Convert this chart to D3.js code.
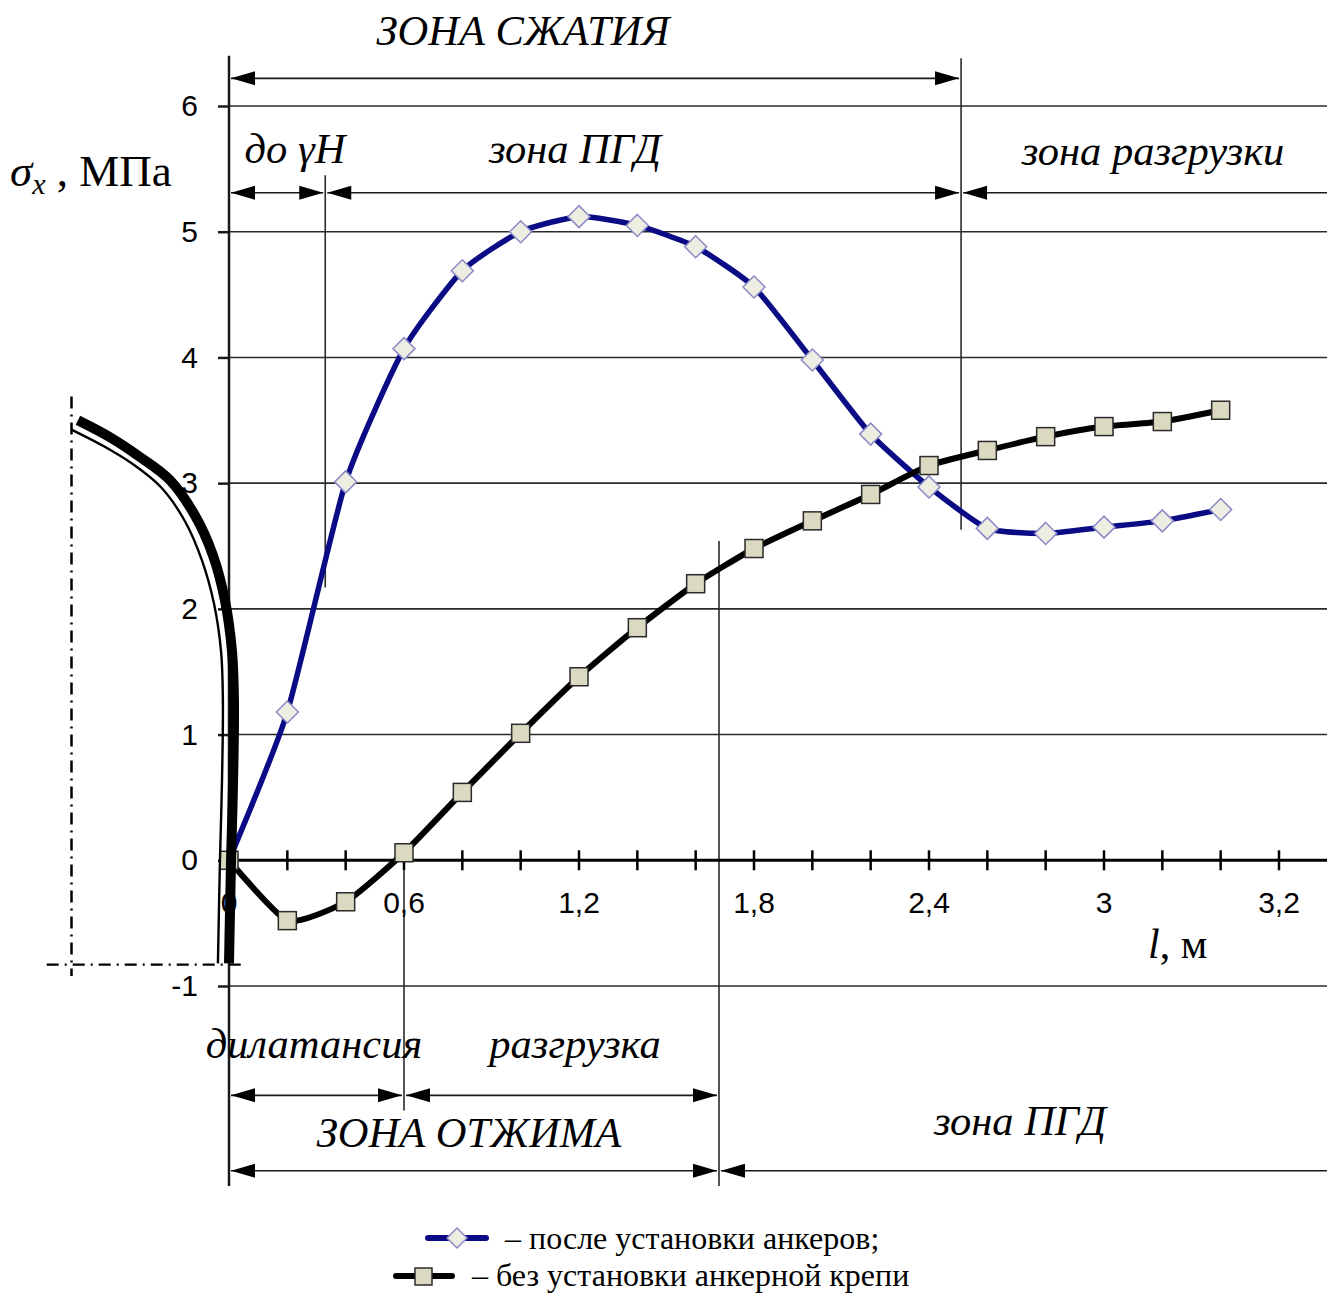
<!DOCTYPE html>
<html lang="ru">
<head>
<meta charset="UTF-8">
<title>Напряжения σx</title>
<script src="https://cdn.jsdelivr.net/npm/d3@7"></script>
<style>
  body { margin: 0; background: #fff; }
  svg { display: block; }
</style>
</head>
<body>
<div id="container"></div>
<script>
// distance from contour, m
const lVals = [0, 0.2, 0.4, 0.6, 0.8, 1.0, 1.2, 1.4, 1.6, 1.8, 2.0, 2.2, 2.4, 2.6, 2.8, 3.0, 3.2, 3.4]
// σx, MPa - after anchors
const withAnchors = [0, 1.18, 3.01, 4.07, 4.69, 5.0, 5.12, 5.05, 4.88, 4.56, 3.98, 3.39, 2.97, 2.64, 2.60, 2.65, 2.70, 2.79]
// σx, MPa - no anchor support
const noAnchors = [0, -0.48, -0.33, 0.06, 0.54, 1.01, 1.46, 1.85, 2.20, 2.48, 2.70, 2.91, 3.14, 3.26, 3.37, 3.45, 3.49, 3.58]

// axis ticks (labels copied as printed)
const xLabelVals = [0, 0.6, 1.2, 1.8, 2.4, 3.0, 3.6]
const xLabels = ["0", "0,6", "1,2", "1,8", "2,4", "3", "3,2"]
const yTickVals = [-1, 0, 1, 2, 3, 4, 5, 6]

// zone boundaries, m
const gammaHEnd = 0.33
const squeezeEnd = 2.51
const dilatEnd = 0.6
const pushEnd = 1.68

// excavation contour sketch (l, σ units)
const contourThick = [[-0.518, 3.5], [-0.408, 3.365], [-0.309, 3.214], [-0.202, 3.023], [-0.117, 2.744], [-0.055, 2.426],
  [-0.014, 2.068], [0.01, 1.67], [0.017, 1.273], [0.014, 0.636], [0.007, 0], [0, -0.82]]
const contourThin = [[-0.542, 3.428], [-0.429, 3.293], [-0.329, 3.15], [-0.233, 2.967], [-0.151, 2.697], [-0.093, 2.387],
  [-0.051, 2.036], [-0.027, 1.655], [-0.021, 1.273], [-0.024, 0.636], [-0.031, 0], [-0.038, -0.82]]

const W = 1327, H = 1293
const svg = d3.select("#container").append("svg").attr("width", W).attr("height", H)

const x = d3.scaleLinear([0, 3.6], [229, 1279])
const y = d3.scaleLinear([-1, 6], [986, 106])

const serif = "'Liberation Serif', 'Times New Roman', serif"
const sans = "'Liberation Sans', Arial, sans-serif"
const ink = "#1a1a1a"

// horizontal gridlines
svg.append("g").selectAll("line").data(yTickVals.filter(v => v !== 0)).join("line")
  .attr("x1", x(0)).attr("x2", W).attr("y1", d => y(d)).attr("y2", d => y(d))
  .attr("stroke", "#2a2a2a").attr("stroke-width", 1.6)

// y axis ticks + labels
const yAx = svg.append("g").attr("transform", `translate(${x(0)},0)`)
  .call(d3.axisLeft(y).tickValues(yTickVals).tickSize(11).tickPadding(20).tickFormat(d => d === -1 ? "-1" : d))
yAx.select(".domain").remove()
yAx.selectAll(".tick line").attr("stroke", ink).attr("stroke-width", 2.5)
yAx.selectAll(".tick text").attr("font-family", sans).attr("font-size", 30).attr("fill", "#000")

// zone boundary verticals
const vlines = [
  { l: gammaHEnd, a: 5.45, b: 2.17 },
  { l: squeezeEnd, a: 6.38, b: 2.63 },
  { l: dilatEnd, a: -0.08, b: -1.99 },
  { l: pushEnd, a: 2.54, b: -2.59 }
]
svg.append("g").selectAll("line").data(vlines).join("line")
  .attr("x1", d => x(d.l)).attr("x2", d => x(d.l)).attr("y1", d => y(d.a)).attr("y2", d => y(d.b))
  .attr("stroke", "#2a2a2a").attr("stroke-width", 1.6)

// y axis line
svg.append("line").attr("x1", x(0)).attr("x2", x(0)).attr("y1", y(6.4)).attr("y2", y(-2.59))
  .attr("stroke", ink).attr("stroke-width", 2.5)

// x axis
svg.append("line").attr("x1", x(0)).attr("x2", W).attr("y1", y(0)).attr("y2", y(0))
  .attr("stroke", "#000").attr("stroke-width", 3)
svg.append("g").selectAll("line").data(d3.range(1, 19).map(i => i * 0.2)).join("line")
  .attr("x1", d => x(d)).attr("x2", d => x(d)).attr("y1", y(0) - 10).attr("y2", y(0) + 10)
  .attr("stroke", "#000").attr("stroke-width", 2.5)
svg.append("g").selectAll("text").data(xLabelVals).join("text")
  .attr("x", d => x(d)).attr("y", y(0) + 53).attr("text-anchor", "middle")
  .attr("font-family", sans).attr("font-size", 30).text((d, i) => xLabels[i])

// arrows
function arrow(l1, l2, v, headL, headR) {
  const g = svg.append("g")
  const x1 = x(l1)
  const x2 = l2 > 3.7 ? W + 10 : x(l2)
  const yy = y(v)
  const hl = 24, hw = 7
  g.append("line").attr("x1", x1 + 2).attr("x2", x2 - 2).attr("y1", yy).attr("y2", yy)
    .attr("stroke", ink).attr("stroke-width", 1.6)
  if (headL) g.append("path").attr("d", `M${x1 + 2},${yy}L${x1 + 2 + hl},${yy - hw}L${x1 + 2 + hl},${yy + hw}Z`).attr("fill", "#000")
  if (headR) g.append("path").attr("d", `M${x2 - 2},${yy}L${x2 - 2 - hl},${yy - hw}L${x2 - 2 - hl},${yy + hw}Z`).attr("fill", "#000")
}
arrow(0, squeezeEnd, 6.22, true, true)
arrow(0, gammaHEnd, 5.31, true, true)
arrow(gammaHEnd, squeezeEnd, 5.31, true, true)
arrow(squeezeEnd, 4, 5.31, true, false)
arrow(0, dilatEnd, -1.87, true, true)
arrow(dilatEnd, pushEnd, -1.87, true, true)
arrow(0, pushEnd, -2.47, true, true)
arrow(pushEnd, 4, -2.47, true, false)

// zone labels
const zoneText = [
  { t: "ЗОНА СЖАТИЯ", x: 523, y: 45 },
  { t: "до γH", x: 295, y: 163 },
  { t: "зона ПГД", x: 575, y: 163 },
  { t: "зона разгрузки", x: 1153, y: 165 },
  { t: "дилатансия", x: 314, y: 1058 },
  { t: "разгрузка", x: 575, y: 1058 },
  { t: "ЗОНА ОТЖИМА", x: 469, y: 1147 },
  { t: "зона ПГД", x: 1020, y: 1135 }
]
svg.append("g").selectAll("text").data(zoneText).join("text")
  .attr("x", d => d.x).attr("y", d => d.y).attr("text-anchor", "middle")
  .attr("font-family", serif).attr("font-style", "italic").attr("font-size", 42.5)
  .attr("fill", "#000").text(d => d.t)

// axis titles
const yt = svg.append("text").attr("x", 10).attr("y", 186).attr("font-family", serif).attr("font-size", 45)
yt.append("tspan").attr("font-style", "italic").text("σ")
yt.append("tspan").attr("font-style", "italic").attr("font-size", 30).attr("dy", 8).text("x")
yt.append("tspan").attr("dy", -8).text(" , МПа")

const xt = svg.append("text").attr("x", 1148).attr("y", 958).attr("font-family", serif).attr("font-size", 42)
xt.append("tspan").attr("font-style", "italic").text("l")
xt.append("tspan").text(", м")

// series
const line = d3.line().x(d => x(d[0])).y(d => y(d[1])).curve(d3.curveCardinal.tension(0.45))
const blueData = lVals.map((l, i) => [l, withAnchors[i]])
const blackData = lVals.map((l, i) => [l, noAnchors[i]])
const blue = "#0b0b86"

svg.append("path").datum(blueData).attr("d", line).attr("fill", "none")
  .attr("stroke", blue).attr("stroke-width", 5.5).attr("stroke-linejoin", "round")
svg.append("path").datum(blackData).attr("d", line).attr("fill", "none")
  .attr("stroke", "#000").attr("stroke-width", 6).attr("stroke-linejoin", "round")

const diamond = r => `M0,${-r}L${r},0L0,${r}L${-r},0Z`
svg.append("g").selectAll("path").data(blueData.slice(1)).join("path")
  .attr("transform", d => `translate(${x(d[0])},${y(d[1])})`).attr("d", diamond(11))
  .attr("fill", "#eeede2").attr("stroke", "#8a8ac8").attr("stroke-width", 1.5)
svg.append("g").selectAll("rect").data(blackData).join("rect")
  .attr("x", d => x(d[0]) - 9).attr("y", d => y(d[1]) - 9).attr("width", 18).attr("height", 18)
  .attr("fill", "#dcd9c2").attr("stroke", "#2a2a2a").attr("stroke-width", 1.5)

// contour sketch
const cLine = d3.line().x(d => x(d[0])).y(d => y(d[1])).curve(d3.curveCatmullRom.alpha(0.5))
svg.append("path").datum(contourThin).attr("d", cLine).attr("fill", "none")
  .attr("stroke", "#000").attr("stroke-width", 2.4)
svg.append("path").datum(contourThick).attr("d", cLine).attr("fill", "none")
  .attr("stroke", "#000").attr("stroke-width", 10)

// dash-dot guides
svg.append("line").attr("x1", x(-0.54)).attr("x2", x(-0.54)).attr("y1", y(3.69)).attr("y2", y(-0.92))
  .attr("stroke", "#000").attr("stroke-width", 2.5).attr("stroke-dasharray", "12,6,2,6")
svg.append("line").attr("x1", x(-0.625)).attr("x2", x(0.06)).attr("y1", y(-0.83)).attr("y2", y(-0.83))
  .attr("stroke", "#000").attr("stroke-width", 2.2).attr("stroke-dasharray", "12,6,2,6")

// legend
const lg = svg.append("g")
lg.append("line").attr("x1", 428).attr("x2", 486).attr("y1", 1238).attr("y2", 1238)
  .attr("stroke", blue).attr("stroke-width", 6).attr("stroke-linecap", "round")
lg.append("path").attr("transform", "translate(457,1238)").attr("d", diamond(10))
  .attr("fill", "#eeede2").attr("stroke", "#8a8ac8").attr("stroke-width", 1.5)
lg.append("text").attr("x", 505).attr("y", 1249).attr("font-family", serif).attr("font-size", 32)
  .text("– после установки анкеров;")
lg.append("line").attr("x1", 396).attr("x2", 452).attr("y1", 1276).attr("y2", 1276)
  .attr("stroke", "#000").attr("stroke-width", 6).attr("stroke-linecap", "round")
lg.append("rect").attr("x", 415).attr("y", 1268).attr("width", 17).attr("height", 17)
  .attr("fill", "#dcd9c2").attr("stroke", "#2a2a2a").attr("stroke-width", 1.5)
lg.append("text").attr("x", 472).attr("y", 1286).attr("font-family", serif).attr("font-size", 32)
  .text("– без установки анкерной крепи")
</script>
</body>
</html>
